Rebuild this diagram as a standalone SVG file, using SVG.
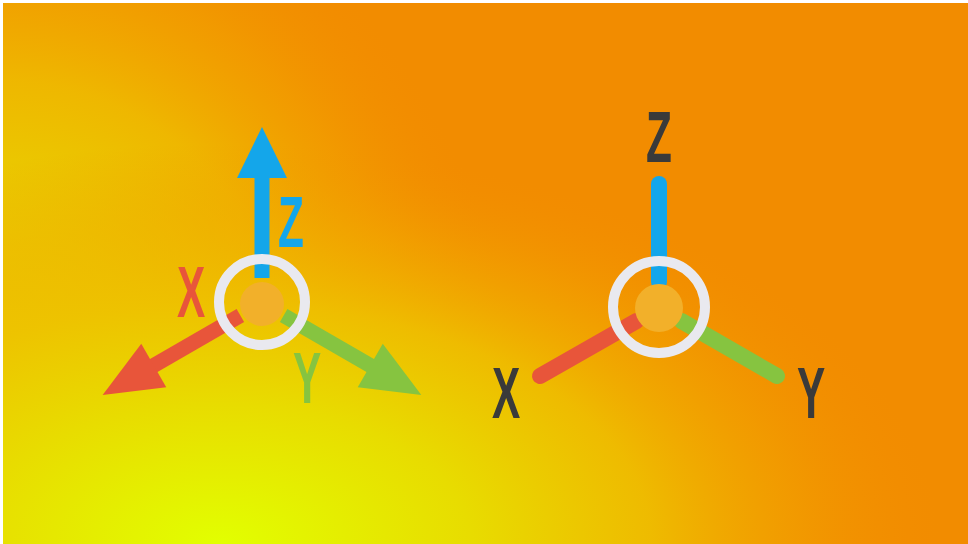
<svg xmlns="http://www.w3.org/2000/svg" width="968" height="544" viewBox="0 0 968 544">
  <defs>
    <radialGradient id="bgBottom" gradientUnits="userSpaceOnUse" cx="0" cy="0" r="1" gradientTransform="translate(220,544) scale(720,400)">
      <stop offset="0" stop-color="#e2ff00" stop-opacity="1"/>
      <stop offset="0.35" stop-color="#e8dc00" stop-opacity="1"/>
      <stop offset="0.6" stop-color="#eec000" stop-opacity="0.9"/>
      <stop offset="0.8" stop-color="#f1a800" stop-opacity="0.5"/>
      <stop offset="1" stop-color="#f29000" stop-opacity="0"/>
    </radialGradient>
    <radialGradient id="bgLeft" gradientUnits="userSpaceOnUse" cx="0" cy="0" r="1" gradientTransform="translate(0,440) scale(520,600)">
      <stop offset="0" stop-color="#e4f000" stop-opacity="1"/>
      <stop offset="0.35" stop-color="#e8d400" stop-opacity="1"/>
      <stop offset="0.6" stop-color="#eebc00" stop-opacity="0.9"/>
      <stop offset="0.8" stop-color="#f1a800" stop-opacity="0.5"/>
      <stop offset="1" stop-color="#f29000" stop-opacity="0"/>
    </radialGradient>
    <style>
      .lbl { font-family: "Liberation Sans", Arial, sans-serif; font-weight: bold; font-size: 73px; text-anchor: middle; }
      .ring { fill: none; stroke: #e9e9ef; stroke-width: 10; }
      .hub { fill: #f2b02a; }
      .red { fill: #e8553a; }
      .green { fill: #86c440; }
      .blue { fill: #14a6ea; }
      .ln { stroke-width: 16; stroke-linecap: round; fill: none; }
    </style>
  </defs>
  <rect x="0" y="0" width="968" height="544" fill="#ffffff"/>
  <rect x="3" y="3" width="965" height="541" fill="#f28c00"/>
  <rect x="3" y="3" width="965" height="541" fill="url(#bgLeft)"/>
  <rect x="3" y="3" width="965" height="541" fill="url(#bgBottom)"/>

  <g id="connectors">
    <g id="arrow-z-left" class="blue" transform="translate(262,303) rotate(-90)">
      <rect x="25" y="-7.5" width="102" height="15"/>
      <polygon points="125,-25 176,0 125,25"/>
    </g>
    <g id="arrow-x-left" class="red" transform="translate(262,303) rotate(150)">
      <rect x="25" y="-7.5" width="102" height="15"/>
      <polygon points="125,-25 184,0 125,25"/>
    </g>
    <g id="arrow-y-left" class="green" transform="translate(262,303) rotate(30)">
      <rect x="25" y="-7.5" width="102" height="15"/>
      <polygon points="125,-25 184,0 125,25"/>
    </g>
    <line id="axis-z-right" class="ln" stroke="#14a6ea" x1="659" y1="282" x2="659" y2="184"/>
    <line id="axis-x-right" class="ln" stroke="#e8553a" x1="636.5" y1="321" x2="540" y2="376"/>
    <line id="axis-y-right" class="ln" stroke="#86c440" x1="681.5" y1="321" x2="777" y2="376"/>
  </g>

  <g id="hub-left">
    <circle class="hub" cx="262" cy="304" r="22"/>
    <circle class="ring" cx="262" cy="302" r="43"/>
  </g>
  <g id="hub-right">
    <circle class="hub" cx="659" cy="308" r="24"/>
    <circle class="ring" cx="659" cy="307" r="46"/>
  </g>

  <g id="label-z-left"><text class="lbl" fill="#14a6ea" transform="translate(291,247) scale(0.58,1)">Z</text></g>
  <g id="label-x-left"><text class="lbl" fill="#e8553a" transform="translate(191,317) scale(0.58,1)">X</text></g>
  <g id="label-y-left"><text class="lbl" fill="#86c440" transform="translate(307,403) scale(0.58,1)">Y</text></g>

  <g id="label-z-right"><text class="lbl" fill="#3a3a3a" transform="translate(659,162) scale(0.58,1)">Z</text></g>
  <g id="label-x-right"><text class="lbl" fill="#3a3a3a" transform="translate(506,418) scale(0.58,1)">X</text></g>
  <g id="label-y-right"><text class="lbl" fill="#3a3a3a" transform="translate(811,418) scale(0.58,1)">Y</text></g>
</svg>
